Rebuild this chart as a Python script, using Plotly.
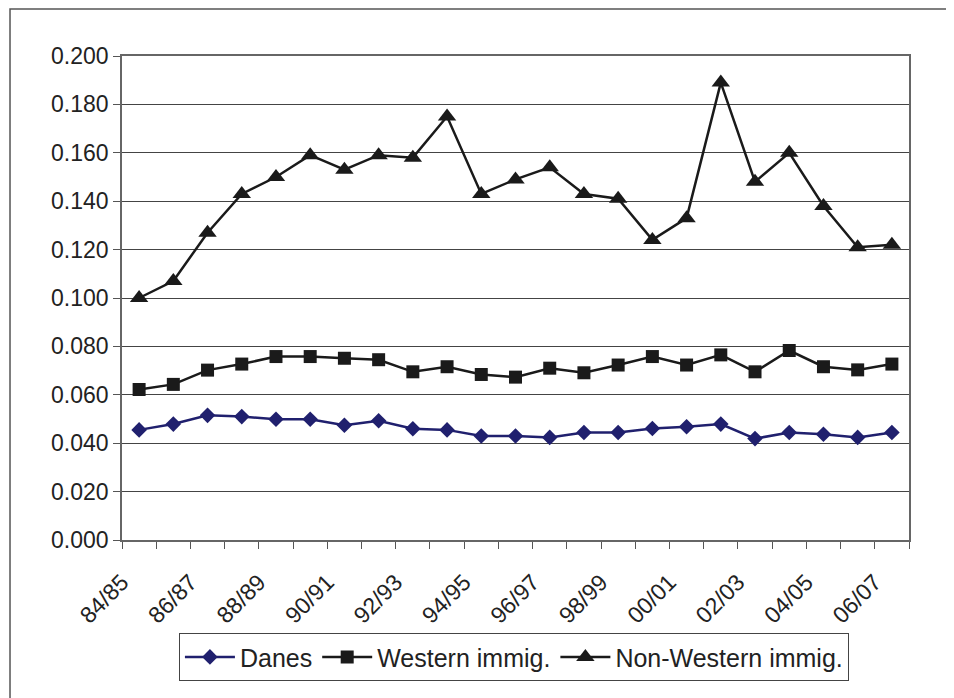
import plotly.graph_objects as go

seasons = ["84/85", "85/86", "86/87", "87/88", "88/89", "89/90", "90/91", "91/92",
           "92/93", "93/94", "94/95", "95/96", "96/97", "97/98", "98/99", "99/00",
           "00/01", "01/02", "02/03", "03/04", "04/05", "05/06", "06/07"]

danes = [0.0455, 0.0479, 0.0515, 0.0510, 0.0499, 0.0499, 0.0474, 0.0493, 0.0460,
         0.0455, 0.0430, 0.0430, 0.0424, 0.0444, 0.0444, 0.0461, 0.0468, 0.0479,
         0.0419, 0.0444, 0.0437, 0.0424, 0.0444]

western = [0.0622, 0.0643, 0.0702, 0.0727, 0.0758, 0.0758, 0.0751, 0.0745, 0.0695,
           0.0716, 0.0684, 0.0673, 0.0710, 0.0691, 0.0723, 0.0758, 0.0723, 0.0765,
           0.0695, 0.0783, 0.0716, 0.0703, 0.0727]

non_western = [0.100, 0.107, 0.127, 0.143, 0.150, 0.159, 0.153, 0.159, 0.158,
               0.175, 0.143, 0.149, 0.154, 0.143, 0.141, 0.124, 0.133, 0.189,
               0.148, 0.160, 0.138, 0.121, 0.122]

y_ticks = [0.0, 0.02, 0.04, 0.06, 0.08, 0.10, 0.12, 0.14, 0.16, 0.18, 0.20]

FONT = "Liberation Sans, Arial, sans-serif"

idx = list(range(len(seasons)))
label_pos = [i - 0.5 for i in idx if i % 2 == 0]
label_txt = [seasons[i] for i in idx if i % 2 == 0]

fig = go.Figure()
fig.add_trace(go.Scatter(
    x=idx, y=danes, name="Danes", mode="lines+markers",
    line=dict(color="#20206e", width=2.5),
    marker=dict(symbol="diamond", size=12, color="#20206e"),
))
fig.add_trace(go.Scatter(
    x=idx, y=western, name="Western immig.", mode="lines+markers",
    line=dict(color="#1a1a1a", width=2.5),
    marker=dict(symbol="square", size=13, color="#1a1a1a"),
))
fig.add_trace(go.Scatter(
    x=idx, y=non_western, name="Non-Western immig.", mode="lines+markers",
    line=dict(color="#1a1a1a", width=2.5),
    marker=dict(symbol="triangle-up", size=16, color="#1a1a1a"),
))

fig.update_layout(
    width=946, height=690,
    margin=dict(l=114, r=45, t=48, b=158),
    paper_bgcolor="white", plot_bgcolor="white",
    font=dict(family=FONT, size=23, color="#222222"),
    showlegend=True,
    legend=dict(
        orientation="h", x=0.498, y=-0.242, xanchor="center", yanchor="middle",
        bordercolor="#444444", borderwidth=1, bgcolor="white",
        font=dict(family=FONT, size=25, color="#222222"),
        itemwidth=50, tracegroupgap=0,
    ),
    xaxis=dict(
        range=[-0.5, len(seasons) - 0.5],
        tickmode="array", tickvals=label_pos, ticktext=label_txt,
        ticks="", tickangle=-45, showgrid=False, ticklabelstandoff=18,
        showline=True, linecolor="#666666", linewidth=1.5, mirror=True,
        zeroline=False,
        tickfont=dict(family=FONT, size=23, color="#222222"),
        minor=dict(tickmode="linear", tick0=-0.5, dtick=1, ticks="outside",
                   ticklen=7, tickcolor="#555555", showgrid=False),
    ),
    yaxis=dict(
        range=[0, 0.2], tickmode="array", tickvals=y_ticks,
        ticktext=[f"{v:.3f}" for v in y_ticks],
        ticks="outside", ticklen=7, tickcolor="#555555",
        showgrid=True, gridcolor="#444444", gridwidth=1,
        showline=True, linecolor="#666666", linewidth=1.5, mirror=True,
        zeroline=False,
        tickfont=dict(family=FONT, size=23, color="#222222"),
    ),
    shapes=[dict(
        type="rect", xref="paper", yref="paper",
        x0=-0.1423, x1=1.2, y0=-0.5, y1=1.097,
        line=dict(color="#555555", width=1.5), fillcolor="rgba(0,0,0,0)",
        layer="below",
    )],
)

fig.write_html("out.html")
